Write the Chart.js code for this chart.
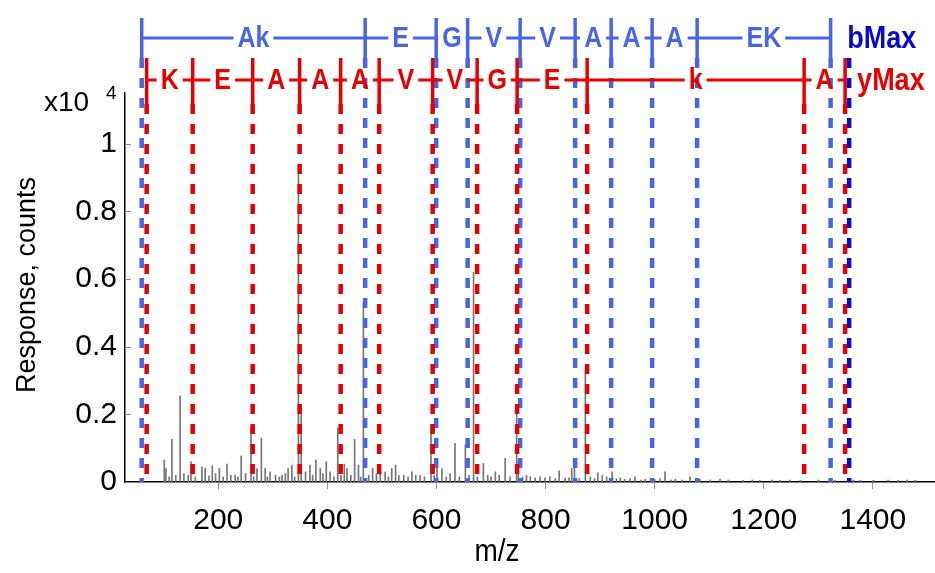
<!DOCTYPE html>
<html><head><meta charset="utf-8">
<script src="https://cdn.jsdelivr.net/npm/chart.js@4.4.1/dist/chart.umd.min.js"></script>
<style>html,body{margin:0;padding:0;background:#fff;}#wrap{width:935px;height:573px;position:relative;}</style>
</head><body><div id="wrap"><canvas id="c"></canvas></div>
<script>
// ---- data ----
const peakMz = [101,104,110,115,122,130,137,145,150,158,170,176,183,189,195,202,209,216,223,231,236,242,250,260,265,271,279,286,290,295,305,312,317,323,328,335,340,347,352,360,368,373,379,387,392,398,405,412,419,425,431,436,443,450,457,461,466,476,483,490,497,506,512,518,525,531,540,548,555,562,570,578,590,596,601,610,618,625,634,642,653,660,668,675,686,694,700,708,715,726,735,747,750,758,765,772,781,790,799,808,818,825,836,843,848,853,862,873,882,890,896,904,912,922,930,937,945,955,964,975,983,1000,1010,1019,1030,1038,1050,1065,1075,1083,1102,1120,1135,1162,1179,1193,1215,1230,1248,1267,1300,1331,1364,1377,1401,1428,1446,1463,1478];
const peakCounts = [650,400,150,1260,200,2540,250,200,600,150,440,400,180,480,250,400,150,530,200,200,150,770,250,1630,150,400,1300,400,150,300,200,150,200,250,400,500,150,9100,2240,300,500,200,650,400,250,600,300,150,1600,200,530,400,200,1260,500,150,5300,200,400,250,500,300,150,400,500,200,200,150,300,200,200,150,1680,200,600,400,150,250,1140,150,1100,200,6200,150,550,200,150,300,200,700,150,2270,600,150,200,150,120,150,120,150,100,330,120,120,400,560,100,3300,150,100,270,200,150,300,100,120,80,100,150,60,80,80,100,300,60,80,60,150,80,80,60,80,60,50,60,50,60,50,60,50,60,50,60,50,50,60,50,60,50];
const bIonMz = [59.6,469.3,599.5,657.2,753.4,854.3,920.3,995.4,1077.9,1322.6];
const bIonLabels = ["Ak","E","G","V","V","A","A","A","EK"];
const yIonMz = [68.7,153.1,263.1,349.2,424.4,495.0,593.0,674.6,747.9,876.3,1274.1,1349.2];
const yIonLabels = ["K","E","A","A","A","V","V","G","E","k","A"];
const bMaxMz = [1356.6];
const xTickValues = [200,400,600,800,1000,1200,1400];
const yTickValues = [0,2000,4000,6000,8000,10000];

// ---- styling ----
const FONT = "'Liberation Sans', Arial, Helvetica, sans-serif";
const BLUE = '#4865e6', RED = '#e60000', DBLUE = '#0a0acc';
const LV = {bTop:13717, bMid:13126, bBot:12535, rTop:12535, rMid:11884, rBot:11175};
const STRETCH = 1.15;

function dashData(mzs, top){
  const d = [];
  mzs.forEach(m => { d.push({x:m, y:top}); d.push({x:m, y:0}); d.push({x:m, y:null}); });
  return d;
}

function tallText(ctx, t, x, y){
  ctx.save(); ctx.translate(x, y); ctx.scale(1, STRETCH); ctx.fillText(t, 0, 0); ctx.restore();
}

function drawLadder(ctx, xs, ys, mzs, labels, color, top, mid, bot){
  const yT = ys.getPixelForValue(top), yM = ys.getPixelForValue(mid), yB = ys.getPixelForValue(bot);
  const px = mzs.map(m => xs.getPixelForValue(m));
  ctx.save();
  ctx.strokeStyle = color; ctx.fillStyle = color;
  ctx.lineWidth = 3.5;
  px.forEach(p => { ctx.beginPath(); ctx.moveTo(p, yT); ctx.lineTo(p, yB); ctx.stroke(); });
  ctx.font = 'bold 25px ' + FONT; ctx.textAlign = 'center'; ctx.textBaseline = 'middle';
  ctx.lineWidth = 3;
  labels.forEach((t, i) => {
    const a = px[i], b = px[i+1], c = (a + b) / 2, w = ctx.measureText(t).width / 2 + 4;
    ctx.beginPath();
    if (c - w > a) { ctx.moveTo(a, yM); ctx.lineTo(c - w, yM); }
    if (c + w < b) { ctx.moveTo(c + w, yM); ctx.lineTo(b, yM); }
    ctx.stroke();
    tallText(ctx, t, c, yM + 1);
  });
  ctx.restore();
}

const annot = {
  id: 'annot',
  afterDatasetsDraw(chart){
    const ctx = chart.ctx, xs = chart.scales.x, ys = chart.scales.y;
    drawLadder(ctx, xs, ys, bIonMz, bIonLabels, BLUE, LV.bTop, LV.bMid, LV.bBot);
    drawLadder(ctx, xs, ys, yIonMz, yIonLabels, RED, LV.rTop, LV.rMid, LV.rBot);
    ctx.save();
    ctx.font = 'bold 27px ' + FONT; ctx.textAlign = 'left'; ctx.textBaseline = 'middle';
    ctx.fillStyle = DBLUE;
    tallText(ctx, 'bMax', xs.getPixelForValue(bMaxMz[0]) - 2, ys.getPixelForValue(LV.bMid) + 1);
    ctx.fillStyle = RED;
    tallText(ctx, 'yMax', xs.getPixelForValue(yIonMz[yIonMz.length-1]) + 12, ys.getPixelForValue(LV.rMid) + 1);
    ctx.restore();
  },
  afterDraw(chart){
    const ctx = chart.ctx, ys = chart.scales.y, left = chart.chartArea.left;
    ctx.save();
    ctx.strokeStyle = '#888'; ctx.lineWidth = 1;
    yTickValues.forEach(v => { const p = Math.round(ys.getPixelForValue(v)) + 0.5; ctx.beginPath(); ctx.moveTo(left, p); ctx.lineTo(left + 6, p); ctx.stroke(); });
    ctx.fillStyle = '#000';
    ctx.save(); ctx.translate(28, 285); ctx.rotate(-Math.PI/2);
    ctx.font = '27px ' + FONT; ctx.textAlign = 'center'; ctx.textBaseline = 'middle';
    ctx.fillText('Response, counts', 0, 0); ctx.restore();
    ctx.font = '28px ' + FONT; ctx.textAlign = 'center'; ctx.textBaseline = 'middle';
    tallText(ctx, 'm/z', 497, 552);
    ctx.textAlign = 'left';
    ctx.font = '28px ' + FONT; ctx.fillText('x10', 44, 103);
    ctx.font = '19px ' + FONT; ctx.fillText('4', 106, 94);
    ctx.restore();
  }
};

new Chart(document.getElementById('c'), {
  type: 'bar',
  data: {
    datasets: [
      {type:'line', data: dashData(bMaxMz, LV.bBot), borderColor: DBLUE, borderWidth: 4.5, borderDash:[10,10], pointRadius:0, fill:false, clip:false, spanGaps:false, order:0},
      {type:'line', data: dashData(yIonMz, LV.rBot), borderColor: RED, borderWidth: 4.5, borderDash:[10,10], pointRadius:0, fill:false, clip:false, spanGaps:false, order:1},
      {type:'line', data: dashData(bIonMz, LV.bBot), borderColor: BLUE, borderWidth: 4.5, borderDash:[10,10], pointRadius:0, fill:false, clip:false, spanGaps:false, order:2},
      {type:'bar', data: peakMz.map((m,i) => ({x:m, y:peakCounts[i]})), backgroundColor:'#767676', barThickness:1, order:10}
    ]
  },
  options: {
    responsive: true, maintainAspectRatio: false, animation: false,
    layout: {padding: {top: 93, right: 0, left: 0, bottom: 0}},
    plugins: {legend:{display:false}, tooltip:{enabled:false}},
    scales: {
      x: {
        type: 'linear', position: 'bottom', min: 29, max: 1514, offset: false,
        afterBuildTicks: s => { s.ticks = xTickValues.map(v => ({value:v})); },
        afterFit: s => { s.height = 91; },
        ticks: {font:{size:30, family:FONT}, color:'#000', padding:14, maxRotation:0, autoSkip:false, includeBounds:false, callback: v => String(v)},
        grid: {offset:false, drawOnChartArea:false, drawTicks:true, tickLength:7, color:'#999', tickWidth:1},
        border: {color:'#000', width:1.5}
      },
      y: {
        type: 'linear', min: 0, max: 11500,
        afterBuildTicks: s => { s.ticks = yTickValues.map(v => ({value:v})); },
        afterFit: s => { s.width = 125; },
        ticks: {font:{size:30, family:FONT}, color:'#000', padding:8, callback: v => String(v/10000)},
        grid: {drawOnChartArea:false, drawTicks:false},
        border: {color:'#000', width:1.5}
      }
    }
  },
  plugins: [annot]
});
</script></body></html>
